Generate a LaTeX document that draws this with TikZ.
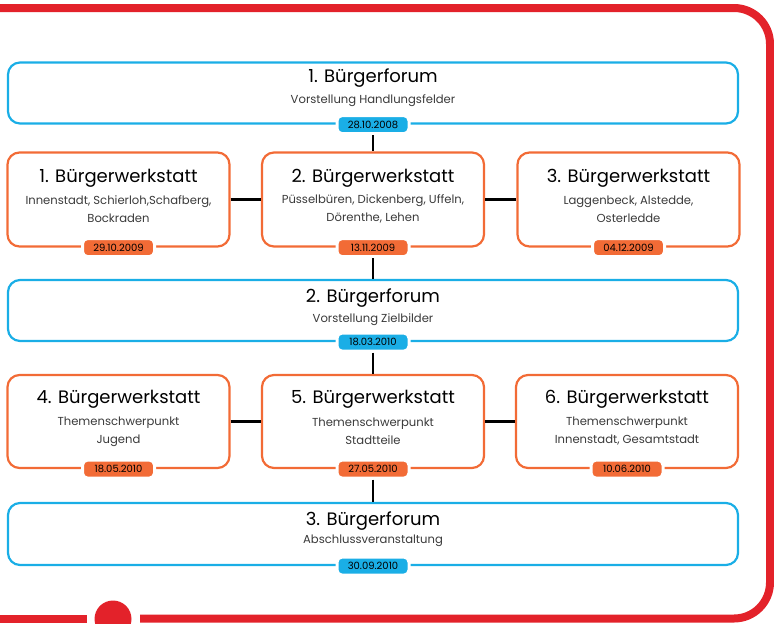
\documentclass[tikz,border=0pt]{standalone}
\usepackage{fontspec}
\setmainfont{Poppins}
\definecolor{frame}{HTML}{E3222A}
\definecolor{fblue}{HTML}{1AAEE6}
\definecolor{worange}{HTML}{F26B36}
\definecolor{subgray}{HTML}{3A3A3A}
\tikzset{
  redline/.style={draw=frame,line width=8pt},
  forumbox/.style={draw=fblue,line width=2.2pt,rounded corners=12pt,minimum width=730pt,minimum height=61pt,inner sep=0pt},
  workbox/.style={draw=worange,line width=2.2pt,rounded corners=12pt,minimum width=222pt,minimum height=94pt,inner sep=0pt},
  fbadge/.style={fill=fblue,draw=white,line width=3pt,rounded corners=5pt,minimum width=72pt,minimum height=18pt,inner sep=0pt,font=\fontsize{10}{11}\selectfont},
  wbadge/.style={fill=worange,draw=white,line width=3pt,rounded corners=5pt,minimum width=72pt,minimum height=18pt,inner sep=0pt,font=\fontsize{10}{11}\selectfont},
  titletext/.style={inner sep=0pt,font=\fontsize{18}{20}\selectfont},
  subtext/.style={inner sep=0pt,align=center,text=subgray,font=\fontsize{11.6}{18}\selectfont},
  conn/.style={draw=black,line width=2.4pt}
}
\begin{document}
\begin{tikzpicture}[x=1pt,y=-1pt]
\useasboundingbox (0,0) rectangle (774,624);
% red frame
\draw[redline,rounded corners=36pt] (0,8) -- (770,8) -- (770,618.5) -- (140,618.5);
\draw[redline] (0,618.5) -- (87,618.5);
\fill[frame] (113,619) circle (18.5pt);

% boxes
\node[forumbox] (f1) at (373,93) {};
\node[forumbox] (f2) at (373,310.5) {};
\node[forumbox,minimum height=62pt] (f3) at (373,534) {};
\node[workbox] (w1) at (118.5,199.5) {};
\node[workbox] (w2) at (373,199.5) {};
\node[workbox] (w3) at (628.5,199.5) {};
\node[workbox,minimum height=93pt] (w4) at (118.5,421.5) {};
\node[workbox,minimum height=93pt] (w5) at (373,421.5) {};
\node[workbox,minimum height=93pt] (w6) at (627,421.5) {};

% connectors
\draw[conn] (w1.east) -- (w2.west);
\draw[conn] (w2.east) -- (w3.west);
\draw[conn] (w4.east) -- (w5.west);
\draw[conn] (w5.east) -- (w6.west);

% badges
\node[fbadge] (b1) at (f1.south) {28.10.2008};
\node[fbadge] (b2) at (f2.south) {18.03.2010};
\node[fbadge] (b3) at (f3.south) {30.09.2010};
\node[wbadge] (c1) at (w1.south) {29.10.2009};
\node[wbadge] (c2) at (w2.south) {13.11.2009};
\node[wbadge] (c3) at (w3.south) {04.12.2009};
\node[wbadge] (c4) at (w4.south) {18.05.2010};
\node[wbadge] (c5) at (w5.south) {27.05.2010};
\node[wbadge] (c6) at (w6.south) {10.06.2010};

\draw[conn] (b1.south) -- (w2.north);
\draw[conn] (c2.south) -- (f2.north);
\draw[conn] (b2.south) -- (w5.north);
\draw[conn] (c5.south) -- (f3.north);

% texts
\node[titletext] (t1) at (373,78) {1. Bürgerforum};
\node[subtext] (s1) at (373,101) {Vorstellung Handlungsfelder};
\node[titletext] (t2) at (373,298) {2. Bürgerforum};
\node[subtext] (s2) at (373,320) {Vorstellung Zielbilder};
\node[titletext] (t3) at (373,521) {3. Bürgerforum};
\node[subtext] (s3) at (373,541) {Abschlussveranstaltung};

\node[titletext] (tw1) at (118.5,178) {1. Bürgerwerkstatt};
\node[subtext] (sw1) at (118.5,209) {Innenstadt, Schierloh,Schafberg,\\Bockraden};
\node[titletext] (tw2) at (373,178) {2. Bürgerwerkstatt};
\node[subtext] (sw2) at (373,209) {Püsselbüren, Dickenberg, Uffeln,\\Dörenthe, Lehen};
\node[titletext] (tw3) at (628.5,178) {3. Bürgerwerkstatt};
\node[subtext] (sw3) at (628.5,209) {Laggenbeck, Alstedde,\\Osterledde};

\node[titletext] (tw4) at (118.5,399) {4. Bürgerwerkstatt};
\node[subtext] (sw4) at (118.5,431.5) {Themenschwerpunkt\\Jugend};
\node[titletext] (tw5) at (373,399) {5. Bürgerwerkstatt};
\node[subtext] (sw5) at (373,431.5) {Themenschwerpunkt\\Stadtteile};
\node[titletext] (tw6) at (627,399) {6. Bürgerwerkstatt};
\node[subtext] (sw6) at (627,431.5) {Themenschwerpunkt\\Innenstadt, Gesamtstadt};
\end{tikzpicture}
\end{document}
